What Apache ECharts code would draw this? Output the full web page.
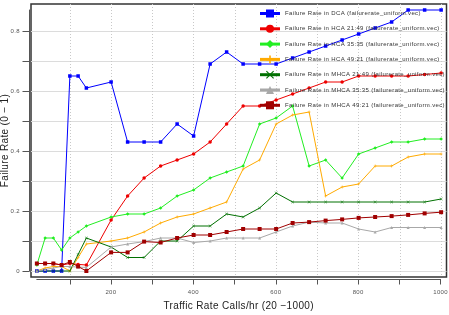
<!DOCTYPE html>
<html>
<head>
<meta charset="utf-8">
<script src="https://cdn.jsdelivr.net/npm/echarts@6.0.0/dist/echarts.min.js"></script>
<style>
  html, body { margin: 0; padding: 0; background: #fff; }
  #main { width: 449px; height: 315px; }
</style>
</head>
<body>
<div id="main"></div>
<script>
// traffic rate (calls/hr)
var rates = [20, 40, 60, 80, 100, 120, 140, 200, 240, 280, 320, 360, 400, 440, 480, 520,
  560, 600, 640, 680, 720, 760, 800, 840, 880, 920, 960, 1000];

var dca = [0, 0, 0, 0, 0.65, 0.65, 0.61, 0.63, 0.43, 0.43, 0.43, 0.49, 0.45, 0.69, 0.73, 0.69,
  0.69, 0.69, 0.71, 0.73, 0.75, 0.77, 0.79, 0.81, 0.83, 0.87, 0.87, 0.87];
var hca2149 = [0.025, 0.025, 0.025, 0.02, 0.025, 0.022, 0.02, 0.17, 0.25, 0.31, 0.35, 0.37, 0.39, 0.43, 0.49, 0.55,
  0.55, 0.57, 0.59, 0.61, 0.63, 0.63, 0.65, 0.65, 0.65, 0.65, 0.655, 0.66];
var hca3535 = [0.02, 0.11, 0.11, 0.07, 0.11, 0.13, 0.15, 0.18, 0.19, 0.19, 0.21, 0.25, 0.27, 0.31, 0.33, 0.35,
  0.49, 0.51, 0.55, 0.35, 0.37, 0.31, 0.39, 0.41, 0.43, 0.43, 0.44, 0.44];
var hca4921 = [0, 0.01, 0.015, 0.015, 0, 0.045, 0.09, 0.10, 0.11, 0.13, 0.16, 0.18, 0.19, 0.21, 0.23, 0.34,
  0.37, 0.49, 0.52, 0.53, 0.25, 0.28, 0.29, 0.35, 0.35, 0.38, 0.39, 0.39];
var mhca2149 = [0, 0, 0, 0, 0, 0.055, 0.11, 0.08, 0.045, 0.045, 0.10, 0.10, 0.15, 0.15, 0.19, 0.18,
  0.21, 0.26, 0.23, 0.23, 0.23, 0.23, 0.23, 0.23, 0.23, 0.23, 0.23, 0.24];
var mhca3535 = [0, 0.005, 0.01, 0.015, 0.015, 0.013, 0.012, 0.08, 0.09, 0.098, 0.11, 0.11, 0.095, 0.10, 0.11, 0.11,
  0.11, 0.13, 0.15, 0.163, 0.16, 0.16, 0.14, 0.13, 0.145, 0.145, 0.145, 0.145];
var mhca4921 = [0.025, 0.025, 0.025, 0.02, 0.03, 0.015, 0, 0.062, 0.062, 0.098, 0.095, 0.11, 0.12, 0.12, 0.13, 0.14,
  0.14, 0.14, 0.16, 0.163, 0.168, 0.172, 0.177, 0.18, 0.183, 0.187, 0.192, 0.196];

var xTicks = [100, 200, 300, 400, 500, 600, 700, 800, 900, 1000];
var xLabels = [200, 400, 600, 800, 1000];
var yTicks = [0, 0.1, 0.2, 0.3, 0.4, 0.5, 0.6, 0.7, 0.8];
var yLabels = [0, 0.2, 0.4, 0.6, 0.8];

var plusIcon = "path://M4,0H6V4H10V6H6V10H4V6H0V4H4Z";
var crossIcon = "path://M0,1L1,0L5,4L9,0L10,1L6,5L10,9L9,10L5,6L1,10L0,9L4,5Z";

var font = "Liberation Sans";

// the original plot spreads its letters a little
var fillTextOrig = CanvasRenderingContext2D.prototype.fillText;
CanvasRenderingContext2D.prototype.fillText = function () {
  this.letterSpacing = "0.35px";
  return fillTextOrig.apply(this, arguments);
};

function pairs(vals) {
  return rates.map(function (r, i) { return [r, vals[i]]; });
}

function line(name, vals, color, symbol, size) {
  return {
    name: name,
    type: "line",
    xAxisIndex: 0,
    yAxisIndex: 0,
    data: pairs(vals),
    symbol: symbol,
    symbolSize: size,
    color: color,
    lineStyle: { width: 1, color: color },
    itemStyle: { color: color },
    emphasis: { disabled: true }
  };
}

var myChart = echarts.init(document.getElementById("main"));

myChart.setOption({
  animation: false,
  backgroundColor: "#fff",
  textStyle: { fontFamily: font },
  grid: [
    // frame holding the data
    { left: 31, top: 4, right: 2.5, bottom: 38, show: true, borderColor: "#333", borderWidth: 1.5,
      backgroundColor: "transparent" },
    // axis lines drawn over the data range only
    { left: 36.8, top: 10, right: 8.4, bottom: 44, outerBoundsMode: "none" }
  ],
  legend: {
    orient: "vertical",
    left: 258.5,
    top: 9.5,
    padding: 0,
    itemWidth: 20,
    itemHeight: 10,
    itemGap: 7.3,
    lineStyle: { width: 3 },
    textStyle: { fontSize: 6, color: "#333", fontFamily: font },
    data: [
      "Failure Rate in DCA (failurerate_uniform.vec)",
      "Failure Rate in HCA 21:49 (failurerate_uniform.vec)",
      "Failure Rate in HCA 35:35 (failurerate_uniform.vec)",
      "Failure Rate in HCA 49:21 (failurerate_uniform.vec)",
      "Failure Rate in MHCA 21:49 (failurerate_uniform.vec)",
      "Failure Rate in MHCA 35:35 (failurerate_uniform.vec)",
      "Failure Rate in MHCA 49:21 (failurerate_uniform.vec)"
    ]
  },
  xAxis: [
    {
      type: "value", gridIndex: 0, min: 5.8, max: 1013,
      axisLine: { show: false },
      axisTick: { show: false, customValues: xTicks },
      axisLabel: { show: false },
      splitLine: { show: true, lineStyle: { color: "#c8c8c8", width: 1, type: [1, 2] } }
    },
    {
      type: "value", gridIndex: 1, min: 20, max: 1000, offset: 8.5,
      name: "Traffic Rate Calls/hr (20 \u22121000)",
      nameLocation: "middle",
      nameGap: 22,
      nameMoveOverlap: false,
      nameTextStyle: { fontSize: 10, color: "#222", fontFamily: font },
      axisLine: { show: true, onZero: false, lineStyle: { color: "#555", width: 1 } },
      axisTick: { show: true, length: 5, customValues: xTicks, lineStyle: { color: "#555" } },
      axisLabel: {
        show: true, customValues: xLabels, fontSize: 6, color: "#555", margin: 10, fontFamily: font,
        formatter: function (v) { return String(v); }
      },
      splitLine: { show: false }
    }
  ],
  yAxis: [
    {
      type: "value", gridIndex: 0, min: -0.02, max: 0.89,
      axisLine: { show: false, onZero: false },
      axisTick: { show: false, customValues: yTicks },
      axisLabel: { customValues: yLabels, fontSize: 6, color: "#555", margin: 11, fontFamily: font },
      splitLine: { show: true, lineStyle: { color: "#dcdcdc", width: 1, type: "solid" } }
    },
    {
      type: "value", gridIndex: 1, min: 0, max: 0.87, offset: 7.3,
      name: "Failure Rate (0 \u2212 1)",
      nameLocation: "middle",
      nameGap: 19.5,
      nameMoveOverlap: false,
      nameTextStyle: { fontSize: 10, color: "#222", fontFamily: font },
      axisLine: { show: true, onZero: false, lineStyle: { color: "#555", width: 1 } },
      axisTick: { show: true, length: 7, customValues: yTicks, lineStyle: { color: "#555" } },
      axisLabel: { show: false },
      splitLine: { show: false }
    }
  ],
  series: [
    line("Failure Rate in DCA (failurerate_uniform.vec)", dca, "#0000ff", "rect", 3.5),
    line("Failure Rate in HCA 21:49 (failurerate_uniform.vec)", hca2149, "#ee0000", "circle", 3.5),
    line("Failure Rate in HCA 35:35 (failurerate_uniform.vec)", hca3535, "#22ee22", "diamond", 3.5),
    line("Failure Rate in HCA 49:21 (failurerate_uniform.vec)", hca4921, "#ffaa00", plusIcon, 3),
    line("Failure Rate in MHCA 21:49 (failurerate_uniform.vec)", mhca2149, "#007000", crossIcon, 3),
    line("Failure Rate in MHCA 35:35 (failurerate_uniform.vec)", mhca3535, "#a8a8a8", "triangle", 3),
    line("Failure Rate in MHCA 49:21 (failurerate_uniform.vec)", mhca4921, "#a00000", "rect", 4)
  ]
});
</script>
</body>
</html>
